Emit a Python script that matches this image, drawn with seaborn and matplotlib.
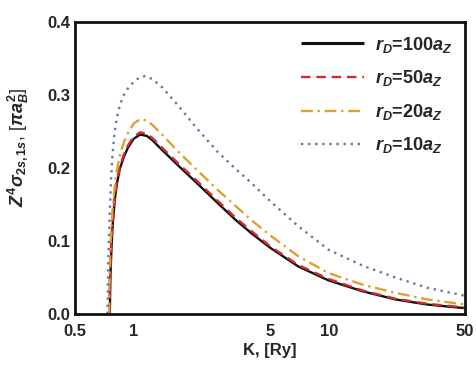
import numpy as np
import pandas as pd
import matplotlib
matplotlib.use("Agg")
import matplotlib.pyplot as plt
import seaborn as sns

# K, [Ry] and Z^4 sigma_{2s,1s}, one list per Debye radius
k_100 = [0.755, 0.76, 0.77, 0.78, 0.80, 0.82, 0.85, 0.89, 0.935, 1.0, 1.08, 1.17, 1.25, 1.41, 1.7, 2.1, 2.7, 3.3, 4.0, 5.0, 7.0, 10, 15, 22, 32, 50]
s_100 = [0.0, 0.05, 0.09, 0.12, 0.156, 0.178, 0.199, 0.215, 0.228, 0.240, 0.246, 0.244, 0.238, 0.224, 0.203, 0.180, 0.152, 0.130, 0.111, 0.091, 0.065, 0.046, 0.031, 0.020, 0.013, 0.008]

k_50 = [0.752, 0.757, 0.767, 0.78, 0.80, 0.82, 0.85, 0.89, 0.935, 1.0, 1.08, 1.17, 1.25, 1.41, 1.7, 2.1, 2.7, 3.3, 4.0, 5.0, 7.0, 10, 15, 22, 32, 50]
s_50 = [0.0, 0.05, 0.095, 0.127, 0.160, 0.181, 0.202, 0.218, 0.231, 0.243, 0.249, 0.247, 0.241, 0.227, 0.206, 0.183, 0.155, 0.133, 0.114, 0.093, 0.067, 0.048, 0.032, 0.021, 0.014, 0.009]

k_20 = [0.748, 0.753, 0.763, 0.775, 0.80, 0.82, 0.85, 0.89, 0.935, 1.0, 1.08, 1.17, 1.25, 1.41, 1.7, 2.1, 2.7, 3.3, 4.0, 5.0, 7.0, 10, 15, 22, 32, 50]
s_20 = [0.0, 0.055, 0.10, 0.135, 0.175, 0.196, 0.218, 0.235, 0.248, 0.261, 0.267, 0.265, 0.259, 0.245, 0.222, 0.198, 0.170, 0.149, 0.129, 0.108, 0.079, 0.056, 0.040, 0.029, 0.020, 0.013]

k_10 = [0.735, 0.74, 0.75, 0.765, 0.78, 0.80, 0.825, 0.85, 0.88, 0.92, 1.0, 1.07, 1.14, 1.25, 1.41, 1.7, 2.1, 2.7, 3.3, 4.0, 5.0, 7.0, 10, 15, 22, 32, 50]
s_10 = [0.0, 0.06, 0.12, 0.18, 0.22, 0.25, 0.272, 0.286, 0.297, 0.307, 0.318, 0.324, 0.326, 0.322, 0.310, 0.285, 0.255, 0.222, 0.200, 0.180, 0.155, 0.120, 0.088, 0.066, 0.050, 0.036, 0.025]

labels = [r"$r_D$=100$a_Z$", r"$r_D$=50$a_Z$", r"$r_D$=20$a_Z$", r"$r_D$=10$a_Z$"]
colors = ["#111111", "#d42a2a", "#e0a030", "#6a78a8"]

frames = []
for lab, k, s in zip(labels, [k_100, k_50, k_20, k_10], [s_100, s_50, s_20, s_10]):
    frames.append(pd.DataFrame({"K": k, "sigma": s, "case": lab}))
df = pd.concat(frames, ignore_index=True)

sns.set_theme(style="white")
plt.rcParams["font.family"] = ["Liberation Sans", "DejaVu Sans"]
plt.rcParams["font.weight"] = "bold"
plt.rcParams["mathtext.fontset"] = "custom"
plt.rcParams["mathtext.rm"] = "Liberation Sans:bold"
plt.rcParams["mathtext.it"] = "Liberation Sans:italic:bold"
plt.rcParams["mathtext.bf"] = "Liberation Sans:bold"

fig = plt.figure(figsize=(4.77, 3.69), dpi=100)
ax = fig.add_axes([0.157, 0.149, 0.818, 0.791])

sns.lineplot(data=df, x="K", y="sigma", hue="case", style="case",
             palette=colors, dashes=[(1, 0), (4, 2.5), (5, 2, 1, 2), (1, 2)],
             linewidth=1.7, sort=False, estimator=None, ax=ax)
# black on top, like the reference
for ln in ax.lines:
    if ln.get_label() == labels[0]:
        ln.set_zorder(5)
        ln.set_linewidth(2.2)

ax.set_xscale("log")
ax.set_xlim(0.5, 50)
ax.set_ylim(0, 0.4)
ax.set_xticks([0.5, 1, 5, 10, 50])
ax.set_xticklabels(["0.5", "1", "5", "10", "50"])
ax.minorticks_off()
ax.set_yticks([0.0, 0.1, 0.2, 0.3, 0.4])
ax.set_yticklabels(["0.0", "0.1", "0.2", "0.3", "0.4"])
ax.tick_params(labelsize=12, direction="in", length=0)
ax.tick_params(axis="x", pad=7)
ax.tick_params(axis="y", pad=3)

ax.set_xlabel("K, [Ry]", fontsize=12, fontweight="bold", labelpad=3)
ax.set_ylabel(r"$Z^4\sigma_{2s,1s}$, [$\pi a_B^2$]", fontsize=13)
ax.yaxis.set_label_coords(-0.115, 0.57)

for sp in ax.spines.values():
    sp.set_linewidth(2)
    sp.set_color("#111111")

leg = ax.legend(loc="upper right", frameon=False, fontsize=13, handlelength=3.5,
                labelspacing=0.75, borderaxespad=0.3, handletextpad=0.6)

fig.savefig("out.png", dpi=100)
